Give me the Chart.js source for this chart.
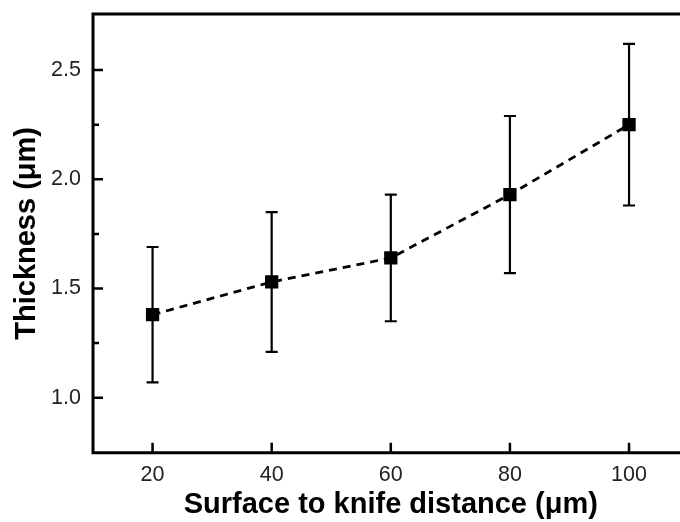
<!DOCTYPE html>
<html>
<head>
<meta charset="utf-8">
<script src="https://cdn.jsdelivr.net/npm/chart.js@4/dist/chart.umd.min.js"></script>
<style>
  html, body { margin: 0; padding: 0; background: #fff; overflow: hidden; }
  #wrap { width: 698px; height: 522px; }
  canvas { display: block; }
</style>
</head>
<body>
<div id="wrap"><canvas id="c" width="698" height="522" style="width:698px;height:522px"></canvas></div>
<script>
// Surface-to-knife distance (µm) and measured film thickness (µm)
const distances = [20, 40, 60, 80, 100];
const thickness = [1.38, 1.53, 1.64, 1.93, 2.25];
const errLower  = [1.07, 1.21, 1.35, 1.57, 1.88];
const errUpper  = [1.69, 1.85, 1.93, 2.29, 2.62];

const xTicks = [20, 40, 60, 80, 100];
const yTicks = [1.0, 1.5, 2.0, 2.5];
const yMinorTicks = [1.25, 1.75, 2.25];

const FONT = "'Liberation Sans', Arial, sans-serif";

// Vertical error bars with caps, drawn under the markers
const errorBars = {
  id: 'errorBars',
  beforeDatasetsDraw(chart) {
    const { ctx, scales: { x, y } } = chart;
    ctx.save();
    ctx.strokeStyle = '#000';
    ctx.lineWidth = 2.2;
    const cap = 6;
    distances.forEach((d, i) => {
      const px = x.getPixelForValue(d);
      const lo = y.getPixelForValue(errLower[i]);
      const hi = y.getPixelForValue(errUpper[i]);
      ctx.beginPath();
      ctx.moveTo(px, lo); ctx.lineTo(px, hi);
      ctx.moveTo(px - cap, lo); ctx.lineTo(px + cap, lo);
      ctx.moveTo(px - cap, hi); ctx.lineTo(px + cap, hi);
      ctx.stroke();
    });
    ctx.restore();
  }
};

// Axis frame with inward-pointing major and minor ticks
const frame = {
  id: 'frame',
  afterDraw(chart) {
    const { ctx, chartArea: a, scales: { x, y } } = chart;
    ctx.save();
    ctx.strokeStyle = '#000';
    ctx.lineWidth = 3;
    ctx.lineCap = 'square';
    ctx.beginPath();
    ctx.moveTo(a.right + 2, a.top);
    ctx.lineTo(a.left, a.top);
    ctx.lineTo(a.left, a.bottom);
    ctx.lineTo(a.right + 2, a.bottom);
    ctx.stroke();

    ctx.lineWidth = 2.5;
    ctx.lineCap = 'butt';
    ctx.beginPath();
    yTicks.forEach(v => {
      const py = y.getPixelForValue(v);
      ctx.moveTo(a.left, py); ctx.lineTo(a.left + 10, py);
    });
    yMinorTicks.forEach(v => {
      const py = y.getPixelForValue(v);
      ctx.moveTo(a.left, py); ctx.lineTo(a.left + 6, py);
    });
    xTicks.forEach(v => {
      const px = x.getPixelForValue(v);
      ctx.moveTo(px, a.bottom); ctx.lineTo(px, a.bottom - 10);
    });
    ctx.stroke();
    ctx.restore();
  }
};

new Chart(document.getElementById('c'), {
  type: 'line',
  data: {
    datasets: [{
      data: distances.map((d, i) => ({ x: d, y: thickness[i] })),
      borderColor: '#000',
      borderWidth: 2.8,
      borderDash: [8, 6],
      pointStyle: 'rect',
      pointRadius: 9.4,
      pointHoverRadius: 9.4,
      pointBorderWidth: 0,
      pointBackgroundColor: '#000',
      tension: 0
    }]
  },
  options: {
    responsive: false,
    animation: false,
    devicePixelRatio: 1,
    layout: { padding: { top: 14, right: 1, left: 0, bottom: 0 } },
    plugins: { legend: { display: false }, tooltip: { enabled: false } },
    scales: {
      x: {
        type: 'linear',
        min: 10,
        max: 110,
        grid: { display: false, drawTicks: false },
        border: { display: false },
        afterBuildTicks: s => { s.ticks = xTicks.map(v => ({ value: v })); },
        afterFit: s => { s.height = 69.3; s.paddingLeft = 0; s.paddingRight = 0; },
        ticks: {
          padding: 9,
          color: '#222',
          font: { family: FONT, size: 21.5 },
          callback: v => String(v)
        },
        title: {
          display: true,
          text: 'Surface to knife distance (μm)',
          color: '#000',
          padding: { top: 1, bottom: 0 },
          font: { family: FONT, size: 29, weight: 'bold' }
        }
      },
      y: {
        min: 0.748,
        max: 2.757,
        grid: { display: false, drawTicks: false },
        border: { display: false },
        afterBuildTicks: s => { s.ticks = yTicks.map(v => ({ value: v })); },
        afterFit: s => { s.width = 93; s.paddingTop = 0; s.paddingBottom = 0; },
        ticks: {
          padding: 12,
          color: '#222',
          font: { family: FONT, size: 21.5 },
          callback: v => Number(v).toFixed(1)
        },
        title: {
          display: true,
          text: 'Thickness (μm)',
          color: '#000',
          padding: { top: 10, bottom: 0 },
          font: { family: FONT, size: 29, weight: 'bold' }
        }
      }
    }
  },
  plugins: [errorBars, frame]
});
</script>
</body>
</html>
